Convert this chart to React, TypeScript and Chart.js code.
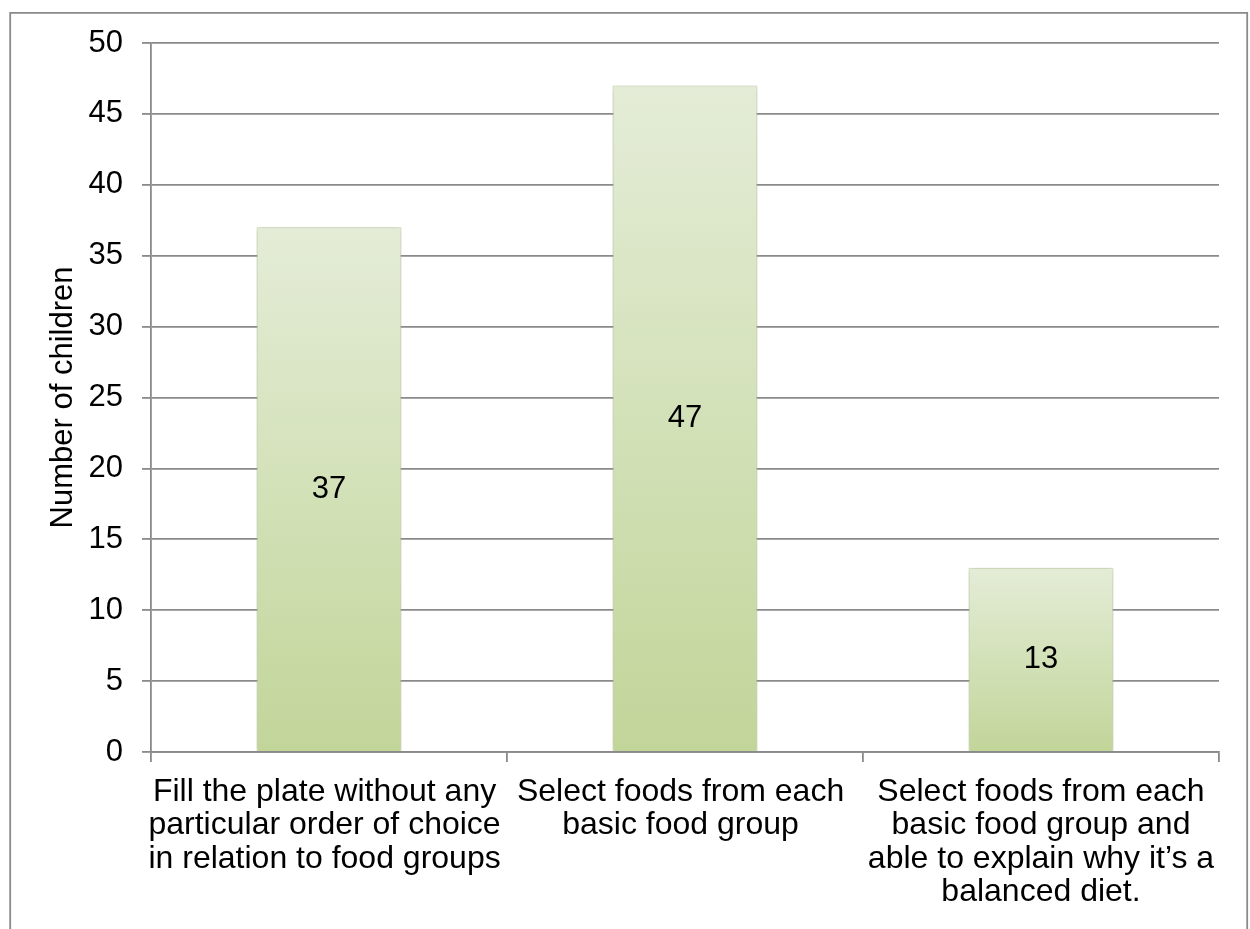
import React, { useEffect, useRef } from "react";
import { Chart, registerables } from "chart.js";

Chart.register(...registerables);

const categories: string[][] = [
  ["Fill the plate without any ", "particular order of choice ", "in relation to food groups "],
  ["Select foods from each ", "basic food group "],
  ["Select foods from each", "basic food group and", "able to explain why it\u2019s a", "balanced diet."],
];
const values: number[] = [37, 47, 13];
const yAxisTitle = "Number of children";
const yMin = 0;
const yMax = 50;
const yStep = 5;

const FONT = "'Liberation Sans', Arial, sans-serif";
const GRID = "#8a8a8a";

const framePlugin = {
  id: "frame",
  afterDraw(chart: any) {
    const ctx = chart.ctx;
    ctx.save();
    ctx.strokeStyle = "#8a8a8a";
    ctx.lineWidth = 1.8;
    ctx.beginPath();
    ctx.moveTo(10.2, 929);
    ctx.lineTo(10.2, 12.8);
    ctx.lineTo(1247.2, 12.8);
    ctx.lineTo(1247.2, 929);
    ctx.stroke();
    ctx.restore();
  },
};

const shadowPlugin = {
  id: "barShadow",
  beforeDatasetsDraw(chart: any) {
    const ctx = chart.ctx;
    ctx.save();
    ctx.shadowColor = "rgba(0,0,0,0.25)";
    ctx.shadowBlur = 6;
    ctx.shadowOffsetX = 0;
    ctx.shadowOffsetY = 1;
  },
  afterDatasetsDraw(chart: any) {
    chart.ctx.restore();
  },
};

const labelPlugin = {
  id: "centerLabels",
  afterDraw(chart: any) {
    const ctx = chart.ctx;
    const meta = chart.getDatasetMeta(0);
    ctx.save();
    ctx.font = `31px ${FONT}`;
    ctx.fillStyle = "#000";
    ctx.textAlign = "center";
    ctx.textBaseline = "middle";
    meta.data.forEach((bar: any, i: number) => {
      const { x, y, base } = bar.getProps(["x", "y", "base"], true);
      ctx.fillText(String(chart.data.datasets[0].data[i]), x, (y + base) / 2);
    });
    ctx.restore();
  },
};

export default function App() {
  const ref = useRef<HTMLCanvasElement | null>(null);
  useEffect(() => {
    document.body.style.margin = "0";
    const canvas = ref.current;
    if (!canvas) return;
    const chart = new Chart(canvas, {
      type: "bar",
      data: {
        labels: categories,
        datasets: [
          {
            data: values,
            backgroundColor: (c: any) => {
              const chartObj = c.chart;
              const ys = chartObj.scales?.y;
              if (!ys || c.dataIndex === undefined) return "#d2e0b6";
              const top = ys.getPixelForValue(values[c.dataIndex]);
              const bottom = ys.getPixelForValue(0);
              if (!isFinite(top) || !isFinite(bottom) || top === bottom) return "#d2e0b6";
              const g = chartObj.ctx.createLinearGradient(0, top, 0, bottom);
              g.addColorStop(0, "#e4ecd7");
              g.addColorStop(0.5, "#d3e1b8");
              g.addColorStop(1, "#c2d599");
              return g;
            },
            borderColor: "rgba(200,218,165,0.9)",
            borderWidth: 1,
            categoryPercentage: 1,
            barPercentage: 0.407,
          },
        ],
      },
      options: {
        animation: false,
        responsive: false,
        maintainAspectRatio: false,
        layout: { padding: { left: 0, top: 43, right: 31, bottom: 0 } },
        plugins: {
          legend: { display: false },
          tooltip: { enabled: false },
        },
        scales: {
          x: {
            grid: {
              display: true,
              offset: true,
              drawOnChartArea: false,
              drawTicks: true,
              tickLength: 10,
              color: GRID,
              lineWidth: 1.8,
            },
            border: { display: true, color: GRID, width: 1.8 },
            ticks: {
              color: "#000",
              padding: 13.5,
              maxRotation: 0,
              autoSkip: false,
              font: { family: FONT, size: 32, lineHeight: 1.04 },
            },
            afterFit: (s: any) => {
              s.height = 177;
            },
          },
          y: {
            min: yMin,
            max: yMax,
            ticks: {
              stepSize: yStep,
              color: "#000",
              padding: 19,
              font: { family: FONT, size: 31 },
            },
            grid: {
              color: GRID,
              lineWidth: 1.8,
              drawTicks: true,
              tickLength: 9,
            },
            border: { display: true, color: GRID, width: 1.8 },
            title: {
              display: true,
              text: yAxisTitle,
              color: "#000",
              font: { family: FONT, size: 31 },
              padding: { top: 45, bottom: 0 },
            },
            afterFit: (s: any) => {
              s.width = 151;
            },
          },
        },
      },
      plugins: [shadowPlugin, labelPlugin, framePlugin],
    });
    return () => chart.destroy();
  }, []);
  return (
    <div style={{ width: 1250, height: 929, background: "#fff" }}>
      <canvas ref={ref} width={1250} height={929} style={{ display: "block" }} />
    </div>
  );
}
